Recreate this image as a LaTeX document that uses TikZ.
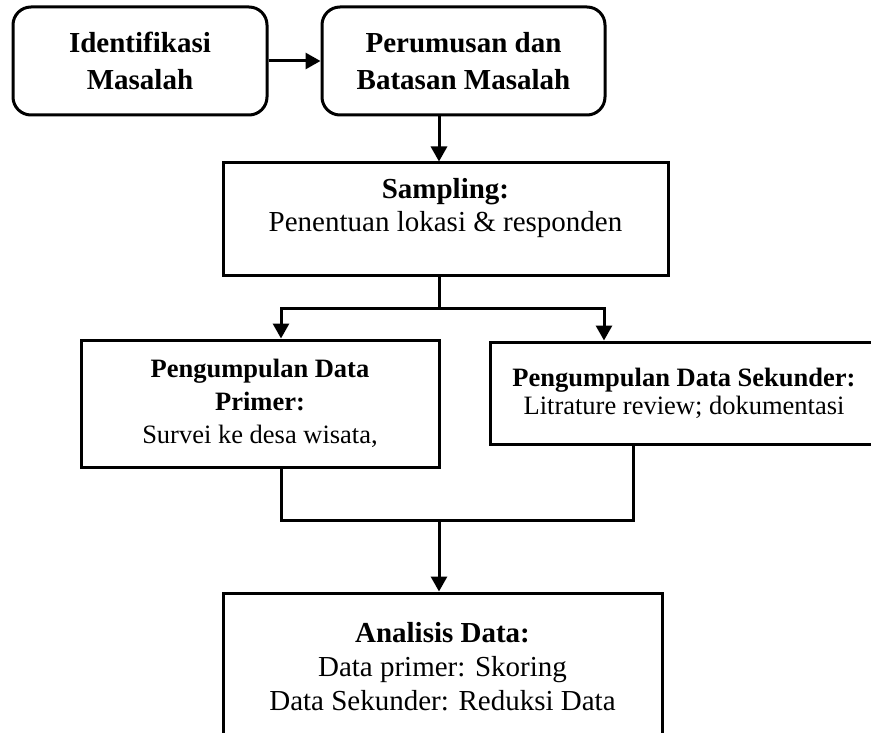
\documentclass[tikz,border=0pt]{standalone}
\usepackage{fontspec}
\setmainfont{Liberation Serif}
\usetikzlibrary{arrows.meta}

\tikzset{
	box/.style = {draw, line width = 3pt, align = center, inner sep = 0pt},
	roundbox/.style = {box, rounded corners = 18pt},
	link/.style = {line width = 3pt},
	arrow/.style = {link, -{Triangle[length = 15pt, width = 16pt]}}
}

\begin{document}
\begin{tikzpicture}[x = 1pt, y = -1pt]

	% Frame
	
	\useasboundingbox (0, 0) rectangle (871, 733);
	\clip (0, 0) rectangle (871, 733);

	% Top row
	
	\node [roundbox, minimum width = 254pt, minimum height = 108pt, font = \fontsize{29}{37}\selectfont\bfseries] (ident) at (140, 61) {Identifikasi\\Masalah};
	\node [roundbox, minimum width = 283pt, minimum height = 108pt, font = \fontsize{29}{37}\selectfont\bfseries] (rumus) at (463.5, 61) {Perumusan dan\\Batasan Masalah};

	% Sampling
	
	\node [box, minimum width = 445pt, minimum height = 112pt, font = \fontsize{29}{33}\selectfont] (sampling) at (445.5, 219) {\textbf{Sampling:}\\Penentuan lokasi \& responden\\[-4pt]\mbox{}};

	% Data collection
	
	\node [box, minimum width = 358pt, minimum height = 127pt, font = \fontsize{26.5}{33}\selectfont] (primer) at (260, 403.5) {\textbf{Pengumpulan Data}\\\textbf{Primer:}\\Survei ke desa wisata,};
	\node [box, minimum width = 388pt, minimum height = 102pt, font = \fontsize{26.5}{28}\selectfont] (sekunder) at (684, 393) {\textbf{Pengumpulan Data Sekunder:}\\Litrature review; dokumentasi};

	% Analysis
	
	\node [box, minimum width = 439pt, minimum height = 148pt, font = \fontsize{29}{34}\selectfont] (analisis) at (442.5, 667) {\textbf{Analisis Data:}\\Data primer: Skoring\\Data Sekunder: Reduksi Data};

	% Connectors
	
	\coordinate (spine) at (439, 0);
	\coordinate (splitL) at (281, 308);
	\coordinate (splitR) at (604, 308);
	\coordinate (joinL) at (281, 520);
	\coordinate (joinR) at (633, 520);

	\draw [arrow] (ident.east) -- (rumus.west);
	\draw [arrow] (rumus.south -| spine) -- (sampling.north -| spine);
	\draw [link] (sampling.south -| spine) -- (splitL -| spine);
	\draw [arrow] (splitL -| spine) -- (splitL) -- (primer.north -| splitL);
	\draw [arrow] (splitL -| spine) -- (splitR) -- (sekunder.north -| splitR);
	\draw [link] (primer.south -| joinL) -- (joinL) -- (joinR) -- (sekunder.south -| joinR);
	\draw [arrow] (joinL -| spine) -- (analisis.north -| spine);

\end{tikzpicture}
\end{document}
